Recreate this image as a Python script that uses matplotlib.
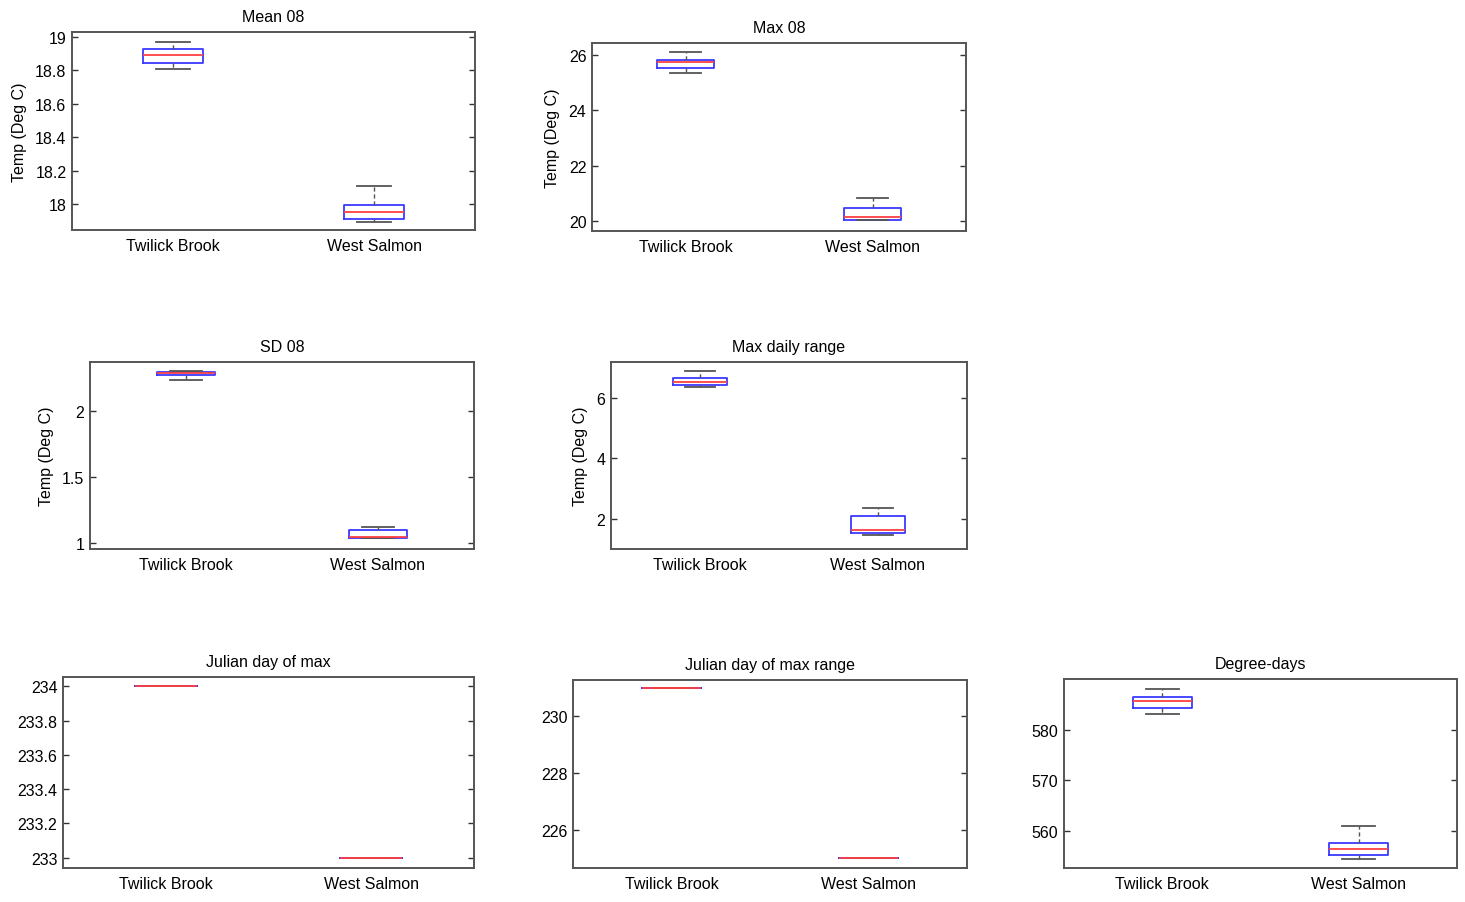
import matplotlib
matplotlib.use("Agg")
import matplotlib.pyplot as plt
from matplotlib.ticker import FuncFormatter

plt.rcParams['font.family'] = ['Liberation Sans', 'DejaVu Sans']

sites = ["Twilick Brook", "West Salmon"]

# box stats per panel: (whislo, q1, med, q3, whishi) for each site
mean08 = [(18.81, 18.845, 18.894, 18.927, 18.97), (17.89, 17.91, 17.95, 17.994, 18.106)]
max08 = [(25.35, 25.54, 25.75, 25.83, 26.13), (20.05, 20.05, 20.16, 20.47, 20.83)]
sd08 = [(2.235, 2.27, 2.285, 2.295, 2.305), (1.037, 1.042, 1.045, 1.096, 1.119)]
maxrange = [(6.37, 6.43, 6.54, 6.65, 6.90), (1.45, 1.54, 1.64, 2.08, 2.37)]
jd_max = [(234, 234, 234, 234, 234), (233, 233, 233, 233, 233)]
jd_maxrange = [(231, 231, 231, 231, 231), (225, 225, 225, 225, 225)]
degdays = [(583.2, 584.3, 585.66, 586.6, 588.15), (554.5, 555.2, 556.4, 557.6, 561.05)]

W, H = 1465, 903
fig = plt.figure(figsize=(W / 100, H / 100), dpi=100)

panels = [
    # data, title, ylabel, yticks, ylim, (left, top, right, bottom) px
    (mean08, "Mean 08", "Temp (Deg C)", [18, 18.2, 18.4, 18.6, 18.8, 19], (17.844, 19.03), (72, 33, 475, 231)),
    (max08, "Max 08", "Temp (Deg C)", [20, 22, 24, 26], (19.64, 26.44), (592, 44, 966, 232)),
    (sd08, "SD 08", "Temp (Deg C)", [1, 1.5, 2], (0.955, 2.371), (90, 363, 474, 550)),
    (maxrange, "Max daily range", "Temp (Deg C)", [2, 4, 6], (1.0, 7.19), (611, 363, 967, 550)),
    (jd_max, "Julian day of max", None, [233, 233.2, 233.4, 233.6, 233.8, 234], (232.94, 234.055), (63, 678, 474, 869)),
    (jd_maxrange, "Julian day of max range", None, [226, 228, 230], (224.65, 231.28), (573, 681, 967, 869)),
    (degdays, "Degree-days", None, [560, 570, 580], (552.7, 590.06), (1064, 680, 1457, 869)),
]

for data, title, ylabel, yticks, ylim, (l, t, r, b) in panels:
    ax = fig.add_axes([l / W, 1 - b / H, (r - l) / W, (b - t) / H])
    stats = []
    for name, (lo, q1, med, q3, hi) in zip(sites, data):
        stats.append(dict(label=name, whislo=lo, q1=q1, med=med, q3=q3, whishi=hi, fliers=[]))
    ax.bxp(stats, positions=[1, 2], widths=0.3, capwidths=0.17, showfliers=False,
           boxprops=dict(color="#3a3aff", linewidth=1.3),
           medianprops=dict(color="#ff4040", linewidth=1.3, zorder=5),
           whiskerprops=dict(color="#555555", linewidth=1.0, linestyle=(0, (3, 2))),
           capprops=dict(color="#555555", linewidth=1.3))
    ax.set_xlim(0.5, 2.5)
    ax.set_ylim(*ylim)
    ax.set_yticks(yticks)
    ax.yaxis.set_major_formatter(FuncFormatter(lambda v, p: "%g" % round(v, 4)))
    ax.tick_params(axis="y", direction="in", length=4, width=1, right=True, labelsize=11.5, pad=4, color="#333333")
    ax.tick_params(axis="x", length=0, labelsize=11.5, pad=6)
    ax.set_xticklabels(sites)
    for s in ax.spines.values():
        s.set_color("#555555")
        s.set_linewidth(1.4)
    ax.set_title(title, fontsize=11.5, pad=8)
    if ylabel:
        ax.set_ylabel(ylabel, fontsize=11.5, labelpad=6)

fig.savefig("out.png", dpi=100)
